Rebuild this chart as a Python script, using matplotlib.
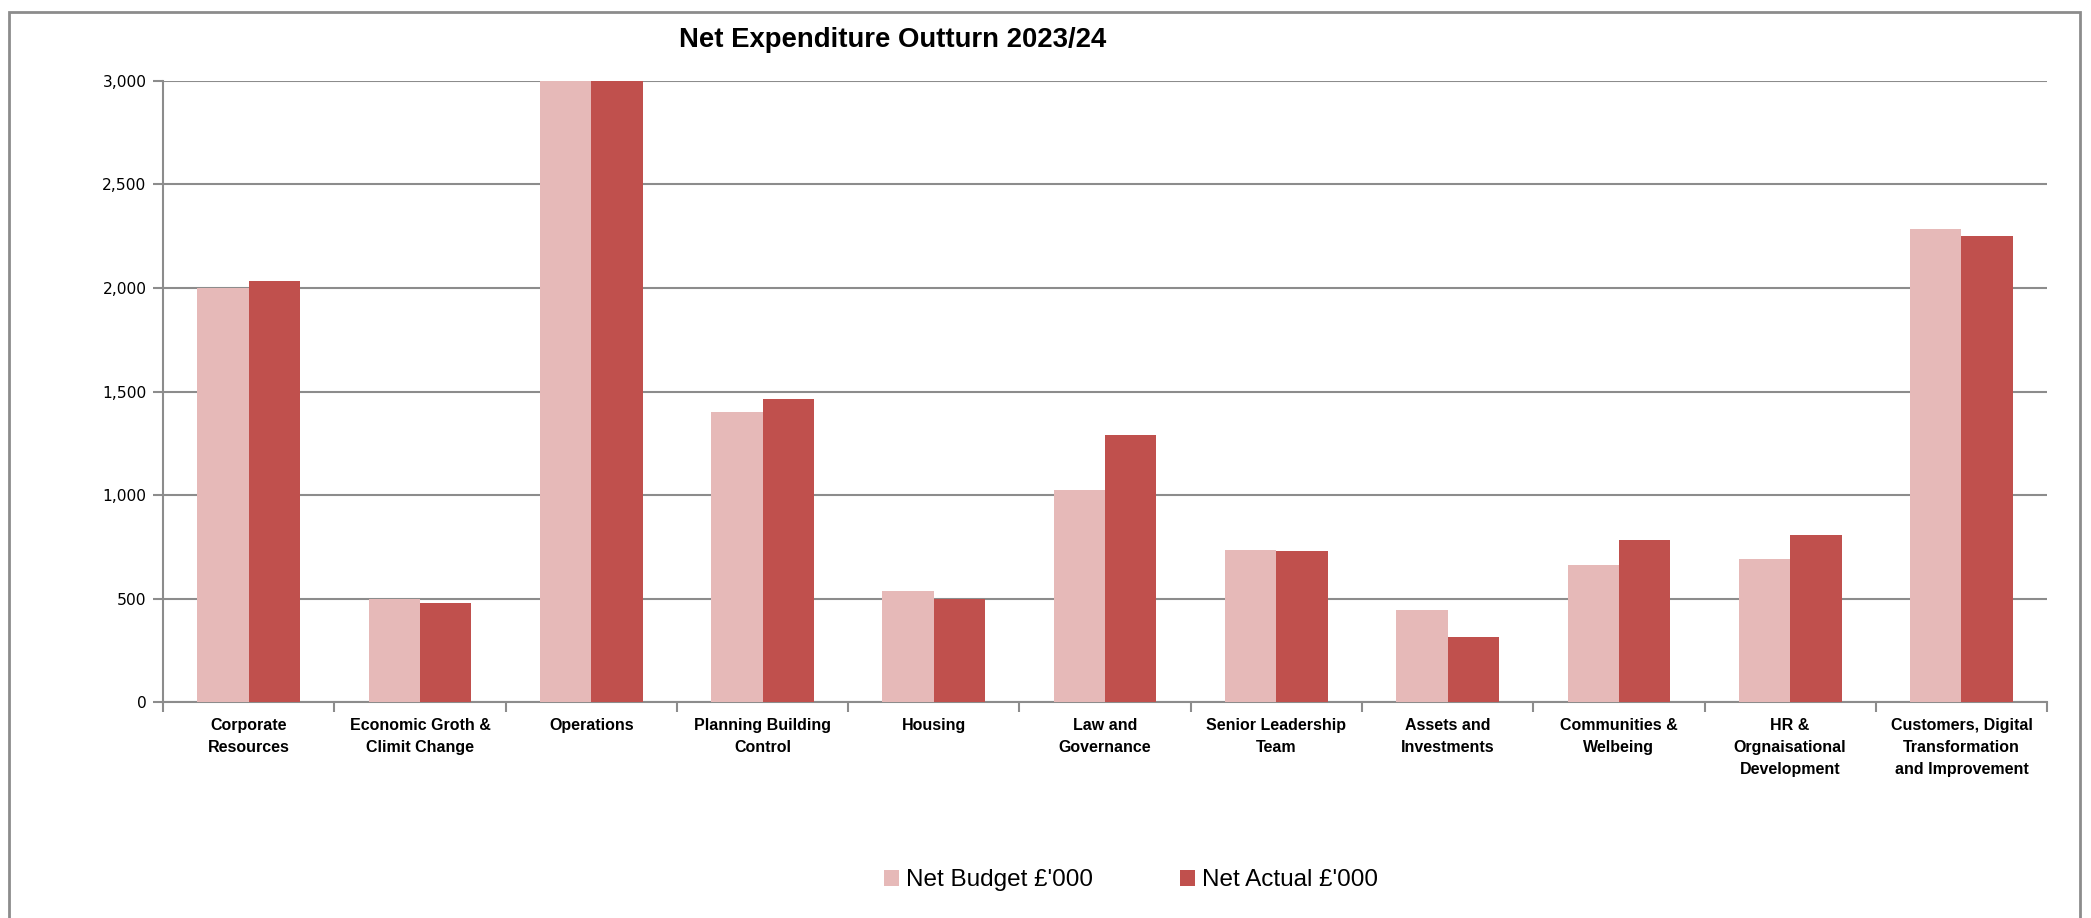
import numpy as np
import matplotlib
matplotlib.use("Agg")
import matplotlib.pyplot as plt
from matplotlib.patches import Rectangle
from matplotlib.ticker import FuncFormatter, FixedLocator

# categories and values (£'000)
categories = [
    "Corporate\nResources",
    "Economic Groth &\nClimit Change",
    "Operations",
    "Planning Building\nControl",
    "Housing",
    "Law and\nGovernance",
    "Senior Leadership\nTeam",
    "Assets and\nInvestments",
    "Communities &\nWelbeing",
    "HR &\nOrgnaisational\nDevelopment",
    "Customers, Digital\nTransformation\nand Improvement",
]
net_budget = [2000, 497, 3000, 1400, 535, 1026, 735, 445, 665, 690, 2284]
net_actual = [2035, 477, 3000, 1465, 500, 1290, 729, 316, 781, 806, 2252]
y_ticks = [0, 500, 1000, 1500, 2000, 2500, 3000]

budget_color = "#E6B9B8"
actual_color = "#C0504D"
grid_color = "#8C8C8C"

fig = plt.figure(figsize=(20.91, 9.18), dpi=100)
ax = fig.add_axes([0.078, 0.235, 0.901, 0.677])

x = np.arange(len(categories))
w = 0.3
ax.bar(x - w / 2, net_budget, w, color=budget_color, label="Net Budget £'000", zorder=3)
ax.bar(x + w / 2, net_actual, w, color=actual_color, label="Net Actual £'000", zorder=3)

ax.set_xlim(-0.5, len(categories) - 0.5)
ax.set_ylim(0, 3000)
ax.set_yticks(y_ticks)
ax.yaxis.set_major_formatter(FuncFormatter(lambda v, p: f"{int(v):,}"))
ax.yaxis.grid(True, color=grid_color, linewidth=1.5, zorder=0)
ax.tick_params(axis="y", length=7, width=1.5, color=grid_color, labelsize=11.2, pad=5)
for lab in ax.get_yticklabels():
    lab.set_family("DejaVu Sans")

ax.set_xticks(x)
ax.set_xticklabels(categories, fontsize=11.5, fontweight="bold",
                   family="Liberation Sans", linespacing=1.6)
ax.xaxis.set_minor_locator(FixedLocator(np.arange(-0.5, len(categories), 1)))
ax.tick_params(axis="x", which="major", length=0, pad=11)
ax.tick_params(axis="x", which="minor", length=7, width=1.5, color=grid_color)

for s in ["top", "right"]:
    ax.spines[s].set_visible(False)
for s in ["left", "bottom"]:
    ax.spines[s].set_color(grid_color)
    ax.spines[s].set_linewidth(1.5)

fig.text(0.427, 0.956, "Net Expenditure Outturn 2023/24", ha="center", va="center",
         fontsize=19.8, fontweight="bold", family="Liberation Sans")

fig.legend(loc="center", bbox_to_anchor=(0.541, 0.041), ncol=2, frameon=False,
           prop={"family": "Liberation Sans", "size": 17.5}, handlelength=0.6,
           handleheight=0.6, handletextpad=0.3, columnspacing=3.6)

fig.patches.append(Rectangle((9 / 2091, -0.02), (2080 - 9) / 2091, (918 - 12) / 918 + 0.02,
                             transform=fig.transFigure, fill=False,
                             edgecolor="#8C8C8C", linewidth=2))

fig.savefig("out.png", dpi=100)
